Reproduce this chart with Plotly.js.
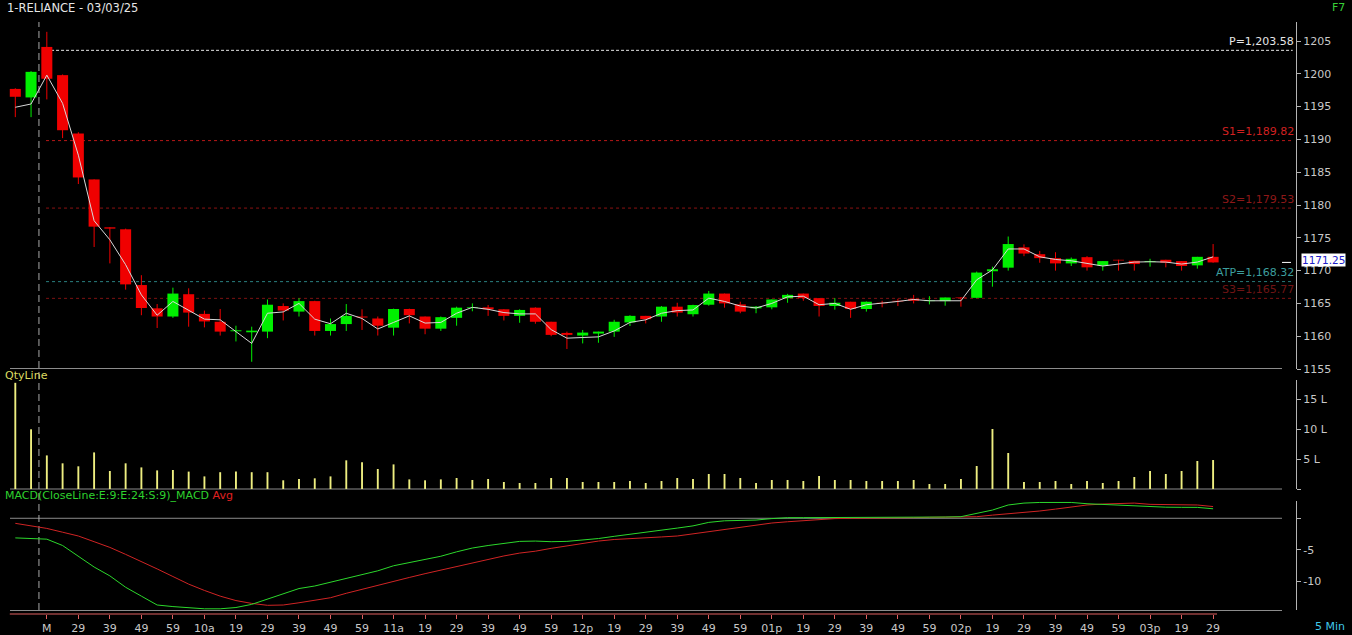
<!DOCTYPE html>
<html>
<head>
<meta charset="utf-8">
<script src="https://cdn.plot.ly/plotly-3.0.1.min.js"></script>
<style>
  html, body { margin: 0; padding: 0; background: #000; }
  #chart { width: 1352px; height: 635px; }
</style>
</head>
<body>
<div id="chart"></div>
<script>
// RELIANCE 5-minute candles, 03/03/25 (first two bars are the previous session)
const opens = [
  1197.7, 1196.4, 1204.1, 1199.8, 1190.9, 1183.9, 1176.6, 1176.3, 1167.8, 1164.25,
  1163.0, 1166.4, 1163.4, 1162.2, 1160.75, 1160.6, 1160.7, 1164.6, 1163.75, 1165.35,
  1160.8, 1161.85, 1163.0, 1162.7, 1161.3, 1164.15, 1163.0, 1161.15, 1162.8, 1164.3,
  1164.4, 1164.1, 1163.1, 1164.35, 1162.2, 1160.5, 1160.1, 1160.4, 1160.7, 1162.1,
  1163.1, 1163.0, 1164.5, 1163.35, 1164.8, 1166.5, 1164.85, 1164.25, 1164.4, 1165.8,
  1166.5, 1165.8, 1164.6, 1165.25, 1164.15, 1165.1, 1165.4, 1165.7, 1165.35, 1165.35,
  1165.9, 1165.85, 1169.9, 1170.45, 1173.55, 1172.5, 1171.9, 1171.1, 1172.05, 1170.75,
  1171.65, 1171.5, 1171.3, 1171.65, 1171.45, 1170.8, 1172.1
];
const highs = [
  1197.8, 1200.4, 1206.4, 1199.9, 1191.1, 1183.9, 1176.6, 1176.4, 1169.3, 1164.9,
  1167.4, 1167.3, 1163.9, 1164.15, 1161.6, 1161.45, 1165.6, 1165.0, 1165.8, 1165.4,
  1162.7, 1164.9, 1164.1, 1163.0, 1164.2, 1164.2, 1163.0, 1163.0, 1164.5, 1165.0,
  1164.75, 1164.1, 1164.1, 1164.4, 1162.2, 1160.7, 1160.95, 1160.7, 1162.5, 1163.2,
  1163.1, 1164.6, 1165.1, 1164.8, 1166.9, 1166.5, 1165.25, 1164.6, 1165.6, 1166.45,
  1166.5, 1165.8, 1165.8, 1165.25, 1165.3, 1165.4, 1165.7, 1166.3, 1166.1, 1165.9,
  1165.95, 1169.85, 1170.6, 1175.2, 1174.0, 1173.0, 1172.8, 1172.0, 1172.2, 1171.45,
  1171.65, 1171.5, 1171.8, 1171.65, 1171.45, 1172.1, 1174.05
];
const lows = [
  1193.4, 1193.4, 1196.1, 1190.2, 1183.2, 1173.6, 1171.1, 1167.1, 1163.2, 1161.25,
  1162.8, 1161.45, 1161.35, 1160.1, 1159.2, 1156.1, 1159.7, 1162.4, 1163.0, 1160.1,
  1160.1, 1160.8, 1160.95, 1160.1, 1160.1, 1161.95, 1160.3, 1160.8, 1161.6, 1163.8,
  1163.1, 1162.4, 1162.05, 1161.9, 1160.0, 1158.05, 1158.9, 1159.0, 1159.9, 1161.55,
  1161.95, 1162.2, 1163.0, 1163.0, 1164.65, 1164.35, 1163.5, 1163.5, 1164.1, 1165.1,
  1165.4, 1163.0, 1164.05, 1162.8, 1163.75, 1164.4, 1164.6, 1165.0, 1164.85, 1164.65,
  1164.5, 1165.8, 1167.55, 1170.0, 1172.2, 1171.2, 1170.0, 1170.7, 1170.0, 1170.0,
  1170.0, 1170.0, 1170.6, 1170.5, 1170.0, 1170.3, 1171.2
];
const closes = [
  1196.5, 1200.3, 1199.25, 1191.4, 1184.2, 1176.7, 1176.4, 1167.9, 1164.3, 1163.0,
  1166.5, 1163.6, 1162.25, 1160.7, 1160.9, 1160.85, 1164.8, 1163.9, 1165.35, 1160.8,
  1161.85, 1163.1, 1162.85, 1161.6, 1164.15, 1163.2, 1161.15, 1162.9, 1164.35, 1164.4,
  1164.1, 1163.1, 1164.0, 1162.2, 1160.2, 1160.2, 1160.55, 1160.7, 1162.2, 1163.1,
  1162.6, 1164.5, 1163.6, 1164.75, 1166.5, 1165.0, 1163.75, 1164.5, 1165.6, 1166.3,
  1165.8, 1164.6, 1165.1, 1164.15, 1165.25, 1165.0, 1165.3, 1165.4, 1165.45, 1165.9,
  1165.8, 1169.7, 1170.2, 1174.05, 1172.6, 1171.9, 1171.1, 1171.8, 1170.5, 1171.45,
  1171.55, 1171.0, 1171.45, 1171.2, 1170.7, 1172.1, 1171.25
];
// white price line running through the candles
const priceLine = [
  1194.9, 1195.4, 1199.8, 1195.5, 1187.6, 1177.6, 1174.7, 1170.9, 1166.3, 1163.2,
  1165.3, 1163.9, 1162.6, 1162.5, 1160.7, 1158.9, 1163.5, 1163.7, 1165.0, 1162.6,
  1161.9, 1163.5, 1162.7, 1161.1, 1162.1, 1163.1, 1162.0, 1162.1, 1163.5, 1164.4,
  1164.1, 1163.6, 1163.4, 1163.4, 1161.0, 1159.7, 1159.8, 1159.9, 1160.8, 1162.1,
  1162.5, 1163.5, 1163.9, 1164.0, 1165.8, 1165.3, 1164.6, 1164.3, 1165.0, 1166.0,
  1166.1, 1164.8, 1165.0, 1164.1, 1164.8, 1165.0, 1165.3, 1165.6, 1165.4, 1165.4,
  1165.4, 1168.6, 1170.1, 1173.3, 1173.3, 1172.1, 1171.7, 1171.5, 1171.1, 1170.7,
  1171.0, 1171.3, 1171.35, 1171.3, 1171.0, 1171.3, 1172.1
];
// traded quantity per bar, in lakh shares
const qtyLakh = [
  17.7, 9.95, 5.6, 4.28, 3.78, 6.1, 3.0, 4.28, 3.6, 3.1,
  3.17, 2.9, 2.1, 2.8, 2.9, 2.8, 2.8, 1.45, 1.67, 1.78,
  2.1, 4.78, 4.45, 3.33, 4.1, 1.6, 1.45, 1.6, 1.83, 1.5,
  1.67, 1.17, 1.0, 1.0, 1.83, 1.83, 1.17, 1.17, 1.17, 1.33,
  1.0, 1.33, 1.83, 1.67, 2.5, 2.5, 1.83, 1.0, 1.5, 1.5,
  1.33, 2.17, 1.5, 1.5, 1.33, 1.33, 1.33, 1.5, 0.83, 0.83,
  1.67, 3.83, 10.0, 6.0, 1.17, 1.17, 1.33, 0.83, 1.33, 1.0,
  1.33, 2.0, 3.0, 2.5, 3.0, 4.67, 4.83
];
// MACD (E:9, E:24, S:9)
const macdValues = [
  -3.1, -3.2, -3.3, -4.3, -6.0, -7.7, -9.1, -10.9, -12.3, -13.7,
  -13.95, -14.1, -14.3, -14.3, -14.1, -13.6, -12.8, -11.9, -11.1, -10.7,
  -10.1, -9.45, -8.85, -8.3, -7.5, -7.0, -6.6, -6.0, -5.3, -4.7,
  -4.3, -3.95, -3.65, -3.6, -3.7, -3.65, -3.45, -3.2, -2.85, -2.55,
  -2.2, -1.85, -1.55, -1.2, -0.65, -0.4, -0.35, -0.28, -0.05, 0.1,
  0.1, 0.1, 0.1, 0.1, 0.1, 0.1, 0.1, 0.12, 0.15, 0.2,
  0.25, 0.8, 1.3, 2.1, 2.4, 2.5, 2.5, 2.5, 2.3, 2.2,
  2.1, 1.9, 1.8, 1.75, 1.73, 1.72, 1.5
];
const macdAvg = [
  -0.8, -1.2, -1.6, -2.2, -2.8, -3.7, -4.6, -5.7, -6.8, -8.0,
  -9.2, -10.4, -11.4, -12.3, -13.0, -13.45, -13.75, -13.7, -13.35, -12.9,
  -12.55, -11.85, -11.2, -10.6, -9.95, -9.35, -8.75, -8.2, -7.6, -7.0,
  -6.45, -5.95, -5.5, -5.2, -4.75, -4.35, -3.95, -3.6, -3.35, -3.25,
  -3.1, -2.95, -2.8, -2.45, -2.1, -1.8, -1.5, -1.1, -0.75, -0.55,
  -0.38, -0.2, -0.05, 0.0, 0.0, 0.0, 0.05, 0.1, 0.15, 0.15,
  0.15, 0.25, 0.5, 0.7, 0.9, 1.15, 1.45, 1.8, 2.1, 2.25,
  2.35, 2.4, 2.2, 2.2, 2.2, 2.1, 1.85
];
// time-axis labels, one every second bar starting at the session open
const timeLabels = [
  'M', '29', '39', '49', '59', '10a', '19', '29', '39', '49', '59', '11a', '19',
  '29', '39', '49', '59', '12p', '19', '29', '39', '49', '59', '01p', '19', '29',
  '39', '49', '59', '02p', '19', '29', '39', '49', '59', '03p', '19', '29'
];
// pivot / reference levels
const levelNames = ['P', 'S1', 'S2', 'ATP', 'S3'];
const levelValues = [1203.58, 1189.82, 1179.53, 1168.32, 1165.77];
const lastTraded = 1171.25;

// ---------- layout helpers ----------
const W = 1352, H = 635;
const M = { l: 0, r: 56, t: 22, b: 21 };
const plotW = W - M.l - M.r, plotH = H - M.t - M.b;
const fy = p => (H - M.b - p) / plotH;   // pixel row -> paper y
const fx = p => (p - M.l) / plotW;       // pixel column -> paper x
const FONT = 'DejaVu Sans';
const GREEN = '#00f000', RED = '#f00000';

const idx = opens.map((_, i) => i);
const isUp = idx.map(i => closes[i] >= opens[i]);

// wick segments split by colour
function wicks(up) {
  const xs = [], ys = [];
  idx.forEach(i => {
    if (isUp[i] === up) { xs.push(i, i, null); ys.push(lows[i], highs[i], null); }
  });
  return { xs, ys };
}
const wUp = wicks(true), wDn = wicks(false);

const traces = [
  { type: 'scatter', mode: 'lines', x: wUp.xs, y: wUp.ys, xaxis: 'x', yaxis: 'y',
    line: { color: GREEN, width: 1 }, hoverinfo: 'skip', showlegend: false },
  { type: 'scatter', mode: 'lines', x: wDn.xs, y: wDn.ys, xaxis: 'x', yaxis: 'y',
    line: { color: RED, width: 1 }, hoverinfo: 'skip', showlegend: false },
  { type: 'bar', x: idx, base: idx.map(i => Math.min(opens[i], closes[i])),
    y: idx.map(i => Math.abs(closes[i] - opens[i])), width: 0.7,
    xaxis: 'x', yaxis: 'y',
    marker: { color: idx.map(i => isUp[i] ? GREEN : RED), line: { width: 0 } },
    hoverinfo: 'skip', showlegend: false },
  { type: 'scatter', mode: 'lines', x: idx, y: priceLine, xaxis: 'x', yaxis: 'y',
    line: { color: '#d8d8d8', width: 1 }, hoverinfo: 'skip', showlegend: false },
  { type: 'bar', x: idx, y: qtyLakh, width: 0.12, xaxis: 'x', yaxis: 'y2',
    marker: { color: '#eeee80', line: { width: 0 } }, hoverinfo: 'skip', showlegend: false },
  { type: 'scatter', mode: 'lines', x: idx, y: macdAvg, xaxis: 'x', yaxis: 'y3',
    line: { color: '#d02424', width: 1 }, hoverinfo: 'skip', showlegend: false },
  { type: 'scatter', mode: 'lines', x: idx, y: macdValues, xaxis: 'x', yaxis: 'y3',
    line: { color: '#2cd82c', width: 1 }, hoverinfo: 'skip', showlegend: false }
];

// ---------- reference lines and pane frames ----------
const levelLine = ['#e6e6e6', '#b81818', '#8a1212', '#2a8080', '#7e1212'];
const levelText = ['#e6e6e6', '#d02020', '#8e1818', '#3c9e9e', '#701414'];
const GRID = '#8c8c8c';

const shapes = [];
levelValues.forEach((v, k) => {
  shapes.push({ type: 'line', layer: 'below', xref: 'x', yref: 'y',
    x0: 1.95, x1: 81.05, y0: v, y1: v,
    line: { color: levelLine[k], width: 1, dash: k === 0 ? '3px,2px' : '3px,3px' } });
});
// pane separators
[368.5, 489].forEach(p => shapes.push({ type: 'line', layer: 'below', xref: 'paper', yref: 'paper',
  x0: fx(10), x1: fx(1282), y0: fy(p), y1: fy(p), line: { color: GRID, width: 1 } }));
shapes.push({ type: 'line', layer: 'below', xref: 'paper', yref: 'y3',
  x0: fx(10), x1: fx(1282), y0: 0, y1: 0, line: { color: GRID, width: 1 } });
shapes.push({ type: 'line', layer: 'below', xref: 'paper', yref: 'paper',
  x0: fx(10), x1: fx(1282), y0: fy(610.5), y1: fy(610.5), line: { color: GRID, width: 1 } });
// time axis base line
shapes.push({ type: 'line', xref: 'x', yref: 'paper',
  x0: -0.35, x1: 76.25, y0: 0, y1: 0, line: { color: '#e06060', width: 1 } });
// session divider
shapes.push({ type: 'line', layer: 'below', xref: 'x', yref: 'paper',
  x0: 1.5, x1: 1.5, y0: fy(610), y1: fy(22), line: { color: '#a8a8a8', width: 1, dash: '7px,4px' } });
// last-traded marker
shapes.push({ type: 'line', xref: 'paper', yref: 'y',
  x0: fx(1282), x1: fx(1291), y0: lastTraded, y1: lastTraded, line: { color: '#ffffff', width: 1 } });

const fmt = v => v.toLocaleString('en-US', { minimumFractionDigits: 2, maximumFractionDigits: 2 });

const annotations = [
  { text: '1-RELIANCE - 03/03/25', xref: 'paper', yref: 'paper', x: fx(5), y: fy(8),
    xanchor: 'left', yanchor: 'middle', showarrow: false, font: { family: FONT, size: 11.5, color: '#e6e6e6' } },
  { text: 'F7', xref: 'paper', yref: 'paper', x: fx(1347), y: fy(8),
    xanchor: 'right', yanchor: 'middle', showarrow: false, font: { family: FONT, size: 11, color: '#38d038' } },
  { text: 'QtyLine', xref: 'paper', yref: 'paper', x: fx(3), y: fy(375),
    xanchor: 'left', yanchor: 'middle', showarrow: false, font: { family: FONT, size: 11, color: '#dcdc60' } },
  { text: 'MACD(CloseLine:E:9:E:24:S:9)_MACD <span style="color:#e02020">Avg</span>',
    xref: 'paper', yref: 'paper', x: fx(3), y: fy(495),
    xanchor: 'left', yanchor: 'middle', showarrow: false, font: { family: FONT, size: 11, color: '#2ed22e' } },
  { text: '5 Min', xref: 'paper', yref: 'paper', x: fx(1347), y: fy(626),
    xanchor: 'right', yanchor: 'middle', showarrow: false, font: { family: FONT, size: 11, color: '#40c8e8' } },
  { text: lastTraded.toFixed(2), xref: 'paper', yref: 'y', x: fx(1301), y: lastTraded, yshift: 2,
    xanchor: 'left', yanchor: 'middle', showarrow: false, bgcolor: '#ffffff', borderpad: 0,
    font: { family: FONT, size: 10.5, color: '#2020c8' } }
];
levelValues.forEach((v, k) => {
  annotations.push({ text: levelNames[k] + '=' + fmt(v), xref: 'paper', yref: 'y',
    x: fx(1295), y: v, yshift: 9, xanchor: 'right', yanchor: 'middle', showarrow: false,
    bgcolor: '#000000', borderpad: 0,
    font: { family: FONT, size: 11, color: levelText[k] } });
});

const axisFont = { family: FONT, size: 11, color: '#c8c8c8' };
const AX = '#b4b4b4';

const layout = {
  width: W, height: H,
  margin: M,
  paper_bgcolor: '#000000', plot_bgcolor: '#000000',
  barmode: 'overlay', showlegend: false, dragmode: false,
  xaxis: {
    range: [-0.971, 81.26], anchor: 'free', position: 0,
    showgrid: false, zeroline: false, showline: false,
    tickmode: 'array', tickvals: timeLabels.map((_, k) => 2 + 2 * k), ticktext: timeLabels,
    ticks: 'outside', ticklen: 4, tickcolor: '#e06060', tickfont: axisFont
  },
  yaxis: {
    domain: [fy(369), fy(22)], range: [1155, 1207.9], side: 'right', anchor: 'x',
    showgrid: false, zeroline: false, showline: true, linecolor: AX, linewidth: 1,
    tick0: 1155, dtick: 5, ticks: 'outside', ticklen: 4, tickcolor: AX, tickfont: axisFont
  },
  yaxis2: {
    domain: [fy(489), fy(380)], range: [0, 18.17], side: 'right', anchor: 'x',
    showgrid: false, zeroline: false, showline: true, linecolor: AX, linewidth: 1,
    tickmode: 'array', tickvals: [0, 5, 10, 15], ticktext: ['', '5 L', '10 L', '15 L'],
    ticks: 'outside', ticklen: 4, tickcolor: AX, tickfont: axisFont
  },
  yaxis3: {
    domain: [fy(610), fy(501)], range: [-14.49, 2.73], side: 'right', anchor: 'x',
    showgrid: false, zeroline: false, showline: true, linecolor: AX, linewidth: 1,
    tickmode: 'array', tickvals: [0, -5, -10], ticktext: ['', '-5', '-10'],
    ticks: 'outside', ticklen: 4, tickcolor: AX, tickfont: axisFont
  },
  shapes, annotations
};

Plotly.newPlot('chart', traces, layout, { staticPlot: true, displayModeBar: false });
</script>
</body>
</html>
